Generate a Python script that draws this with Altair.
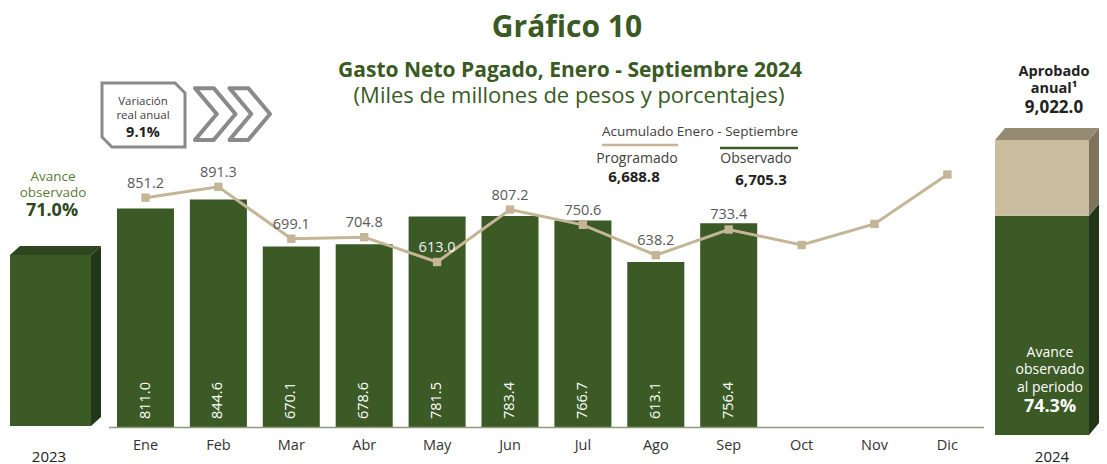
import altair as alt
import pandas as pd

# ---------------- data ----------------
months = ["Ene", "Feb", "Mar", "Abr", "May", "Jun", "Jul", "Ago", "Sep", "Oct", "Nov", "Dic"]
observado = [811.0, 844.6, 670.1, 678.6, 781.5, 783.4, 766.7, 613.1, 756.4]
programado = [851.2, 891.3, 699.1, 704.8, 613.0, 807.2, 750.6, 638.2, 733.4, 676.0, 754.0, 937.0]
acum_programado = "6,688.8"
acum_observado = "6,705.3"
aprobado_2024 = 9022.0
observado_2024 = 6705.3
avance_2024 = "74.3%"
observado_2023 = 5870.0
avance_2023 = "71.0%"
variacion_real = "9.1%"

# ---------------- style / geometry ----------------
FONT = "Open Sans"
W, H = 1091, 456
STEP = 72.9                 # px per month
X0 = 137.5                  # px of first month centre
X_SCALE = alt.Scale(domain=[-X0 / STEP, (W - X0) / STEP], nice=False, zero=False)

def yscale(zero_px, px_per_unit):
    return alt.Scale(domain=[-(H - zero_px) / px_per_unit, zero_px / px_per_unit], nice=False, zero=False)

K_M = 0.27
Y_M = yscale(419.5, K_M)
K_24 = 295 / aprobado_2024
Y_24 = yscale(427, K_24)
K_23 = 171 / observado_2023
Y_23 = yscale(418, K_23)

GREEN = "#3b5a25"
GREEN_TOP = "#2d461d"
GREEN_SIDE = "#22361a"
BEIGE = "#c9bc9f"
BEIGE_TOP = "#958b73"
BEIGE_SIDE = "#7d735f"
LINE = "#c4b596"
TXT = "#404040"
TITLE_GREEN = "#3a5a24"

HALF = 0.391                # half bar width in months

def xq(f):
    return alt.X(f, type="quantitative", scale=X_SCALE, axis=None)

# ---------------- month layers ----------------
n = len(observado)
df = pd.DataFrame({
    "mes": months,
    "idx": list(range(len(months))),
    "prog": programado,
    "obs": observado + [None] * (len(months) - n),
})
df["x0"] = df["idx"] - HALF
df["x1"] = df["idx"] + HALF
df["zero"] = 0.0
dfo = df[df["obs"].notna()].copy()

bars = alt.Chart(dfo).mark_rect(color=GREEN).encode(
    x=xq("x0"), x2="x1",
    y=alt.Y("obs:Q", scale=Y_M, axis=None), y2="zero:Q",
)

bar_text = alt.Chart(dfo).mark_text(
    angle=270, align="left", baseline="middle", color="white", fontSize=14.5, font=FONT
).encode(x=xq("idx"), y=alt.value(411), text=alt.Text("obs:Q", format=".1f"))

baseline_rule = alt.Chart(pd.DataFrame({"a": [-0.5], "b": [len(months) - 0.5], "z": [0.0]})).mark_rule(
    color="#8c9a80", strokeWidth=1.5
).encode(x=xq("a"), x2="b", y=alt.Y("z:Q", scale=Y_M, axis=None))

line = alt.Chart(df).mark_line(color=LINE, strokeWidth=3).encode(
    x=xq("idx"), y=alt.Y("prog:Q", scale=Y_M, axis=None)
)
points = alt.Chart(df).mark_square(color=LINE, size=70, opacity=1).encode(
    x=xq("idx"), y=alt.Y("prog:Q", scale=Y_M, axis=None)
)
line_text = alt.Chart(dfo).mark_text(
    dy=-14, fontSize=14.5, font=FONT, baseline="middle"
).encode(
    x=xq("idx"), y=alt.Y("prog:Q", scale=Y_M, axis=None),
    text=alt.Text("prog:Q", format=".1f"),
    color=alt.condition("datum.obs - datum.prog > 52", alt.value("#f2f2f2"), alt.value("#5a5a5a")),
)
month_labels = alt.Chart(df).mark_text(fontSize=14.5, font=FONT, color="#333333", baseline="middle").encode(
    x=xq("idx"), y=alt.value(438), text="mes:N"
)

# ---------------- 3D side bars ----------------
def faces(a, b, segs, dx, dy, top_color):
    rows = []
    for k, (lo, hi, side_color) in enumerate(segs):
        rows += [
            {"f": f"s{k}", "c": side_color, "x": b, "yb": lo, "yt": hi},
            {"f": f"s{k}", "c": side_color, "x": b + dx, "yb": lo + dy, "yt": hi + dy},
        ]
    v = segs[-1][1]
    for x, yt, yb in [(a, v, v), (a + dx, v + dy, v), (b, v + dy, v), (b + dx, v + dy, v + dy)]:
        rows.append({"f": "top", "c": top_color, "x": x, "yb": yb, "yt": yt})
    return pd.DataFrame(rows)

def side_bar(center, half, segs, front_colors, dx_px, dy_px, k, yscl, top_color):
    a, b = center - half, center + half
    dx, dy = dx_px / STEP, dy_px / k
    fr = pd.DataFrame({
        "x0": [a] * len(segs), "x1": [b] * len(segs),
        "lo": [s[0] for s in segs], "hi": [s[1] for s in segs], "c": front_colors,
    })
    front = alt.Chart(fr).mark_rect().encode(
        x=xq("x0"), x2="x1",
        y=alt.Y("hi:Q", scale=yscl, axis=None), y2="lo:Q",
        color=alt.Color("c:N", scale=None),
    )
    fc = faces(a, b, segs, dx, dy, top_color)
    poly = alt.Chart(fc).mark_area(orient="vertical", opacity=1).encode(
        x=xq("x"), y=alt.Y("yt:Q", scale=yscl, axis=None), y2="yb:Q",
        color=alt.Color("c:N", scale=None), detail="f:N",
    )
    return [front, poly]

side23 = side_bar(
    (42.5 - X0) / STEP, 40.5 / STEP,
    [(0.0, observado_2023, GREEN_SIDE)], [GREEN],
    10, 9, K_23, Y_23, GREEN_TOP,
)
side24 = side_bar(
    (1034 - X0) / STEP, 47 / STEP,
    [(0.0, observado_2024, GREEN_SIDE), (observado_2024, aprobado_2024, BEIGE_SIDE)], [GREEN, BEIGE],
    10, 12, K_24, Y_24, BEIGE_TOP,
)

# ---------------- annotations ----------------
ONE = pd.DataFrame({"k": [0]})

def label(text, x, y, size=14, weight="normal", color=TXT):
    return alt.Chart(ONE).mark_text(
        text=text, fontSize=size, fontWeight=weight, color=color, font=FONT,
        align="center", baseline="middle",
    ).encode(x=alt.value(x), y=alt.value(y))

def hrule(x1, x2, y, color):
    return alt.Chart(ONE).mark_rule(color=color, strokeWidth=2.5).encode(
        x=alt.value(x1), x2=alt.value(x2), y=alt.value(y)
    )

BOX_PATH = "M -1 -0.77 L 0.76 -0.77 L 1 -0.53 L 1 0.77 L -0.76 0.77 L -1 0.53 Z"
CHEV_PATH = ("M -1 -0.69 L -0.5 -0.69 L 0.08 0 L -0.5 0.69 L -1 0.69 L -0.42 0 Z "
             "M -0.08 -0.69 L 0.42 -0.69 L 1 0 L 0.42 0.69 L -0.08 0.69 L 0.5 0 Z")

box = alt.Chart(ONE).mark_point(
    shape=BOX_PATH, size=83 * 83, filled=False, stroke="#8a8a8a", strokeWidth=3, opacity=1
).encode(x=alt.value(135.5), y=alt.value(107))
chev = alt.Chart(ONE).mark_point(
    shape=CHEV_PATH, size=75 * 75, fill="white", filled=True, stroke="#8a8a8a", strokeWidth=4,
    strokeJoin="round", opacity=1
).encode(x=alt.value(224.5), y=alt.value(106))

annotations = [
    label("Gráfico 10", 559, 20, 30, "bold", TITLE_GREEN),
    label("Gasto Neto Pagado, Enero - Septiembre 2024", 562, 63, 21, "bold", TITLE_GREEN),
    label("(Miles de millones de pesos y porcentajes)", 561, 88, 22, "normal", TITLE_GREEN),
    box, chev,
    label("Variación", 135, 93.5, 11.5, "normal", TXT),
    label("real anual", 135, 107.5, 11.5, "normal", TXT),
    label(variacion_real, 135, 125, 14.5, "bold", "#222222"),
    label("Acumulado Enero - Septiembre", 692, 124, 13.5, "normal", TXT),
    hrule(594, 670, 137, LINE),
    hrule(712, 790, 140, GREEN),
    label("Programado", 629, 151, 14, "normal", TXT),
    label("Observado", 748, 151, 14, "normal", TXT),
    label(acum_programado, 626, 169, 15, "bold", "#222222"),
    label(acum_observado, 753, 172, 15, "bold", "#222222"),
    label("Avance", 45, 168.5, 13.5, "normal", "#5a7a3a"),
    label("observado", 45, 184.5, 13.5, "normal", "#5a7a3a"),
    label(avance_2023, 44, 203, 18, "bold", "#2d481d"),
    label("Aprobado", 1046, 64, 14.5, "bold", "#222222"),
    label("anual¹", 1046, 81, 14.5, "bold", "#222222"),
    label(f"{aprobado_2024:,.1f}", 1046, 100, 17, "bold", "#222222"),
    label("Avance", 1042, 345, 14, "normal", "white"),
    label("observado", 1042, 362, 14, "normal", "white"),
    label("al periodo", 1042, 380, 14, "normal", "white"),
    label(avance_2024, 1042, 399, 18, "bold", "white"),
    label("2023", 41, 449, 15, "normal", "#222222"),
    label("2024", 1044, 449, 15, "normal", "#222222"),
]

layers = [bars, bar_text, baseline_rule, line, points, line_text, month_labels] + side23 + side24 + annotations

chart = alt.layer(*layers).resolve_scale(
    y="independent"
).properties(
    width=W, height=H, autosize="none", padding=0, background="white"
).configure_view(stroke=None)

chart.save("out.html", embed_options={"renderer": "svg", "actions": False})
